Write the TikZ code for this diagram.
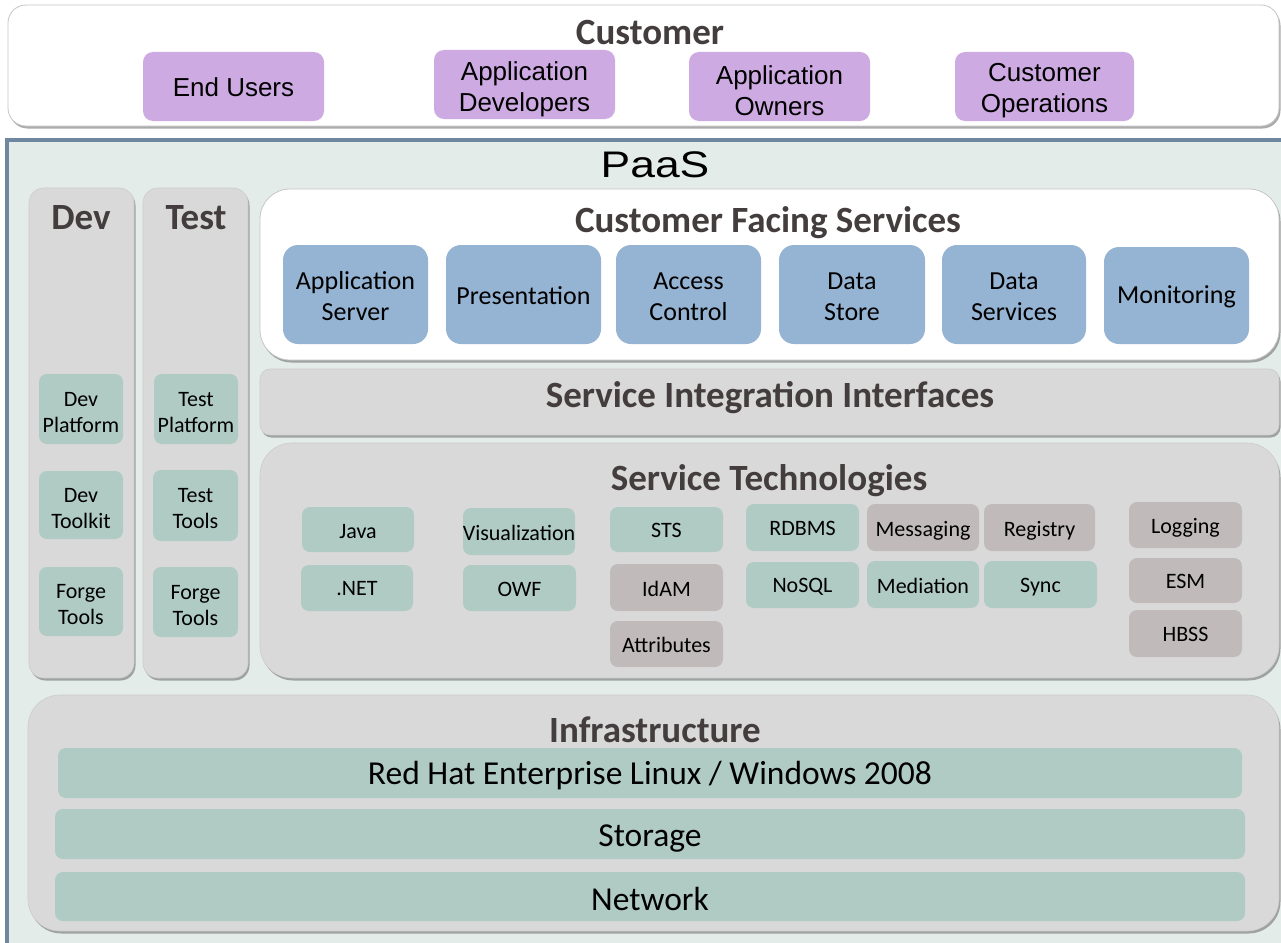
\documentclass[tikz,border=0pt]{standalone}
\usepackage{fontspec}
\usepackage{graphicx}
\setmainfont{Carlito}
\newfontfamily\arialf{Liberation Sans}
\usetikzlibrary{shadows}
\definecolor{paasbg}{HTML}{E4ECEA}
\definecolor{paasln}{HTML}{6F88A0}
\definecolor{cgray}{HTML}{D9D9D9}
\definecolor{tealc}{HTML}{B0CBC4}
\definecolor{mauvec}{HTML}{C1BABA}
\definecolor{bluec}{HTML}{95B3D2}
\definecolor{purpc}{HTML}{CEAAE3}
\definecolor{ttlc}{HTML}{433D3D}
\newcommand\myfs[2]{\fontsize{#1}{#2}\selectfont}
% container box (no text)
\newcommand\cbx[6]{\node[#6, minimum width={#4-#2}, minimum height={#5-#3}] (#1) at ({(#2+#4)/2},{(#3+#5)/2}) {};}
% filled box with its text node shifted by #8
\newcommand\bx[8]{\node[#6, minimum width={#4-#2}, minimum height={#5-#3}] (#1) at ({(#2+#4)/2},{(#3+#5)/2}) {};
  \node[#6, fill=none, draw=none, yshift=#8] (#1-t) at (#1.center) {#7};}
\tikzset{
  shd/.style={drop shadow={shadow xshift=1.5pt, shadow yshift=-2.5pt, opacity=0.55, fill=black!60}},
  ctrbox/.style={rounded corners=#1, fill=cgray, draw=gray!40, line width=0.6pt, inner sep=0pt, shd},
  whitebox/.style={rounded corners=#1, fill=white, draw=gray!45, line width=0.8pt, inner sep=0pt, shd},
  purplebox/.style={rounded corners=10pt, fill=purpc, inner sep=0pt, align=center, font={\arialf\myfs{26}{31}}, text=black},
  bluebox/.style={rounded corners=15pt, fill=bluec, inner sep=0pt, align=center, font={\myfs{26}{31}}, text=black},
  tealitem/.style={rounded corners=8pt, fill=tealc, inner sep=0pt, align=center, font={\myfs{22}{26}}, text=black},
  mauveitem/.style={rounded corners=8pt, fill=mauvec, inner sep=0pt, align=center, font={\myfs{22}{26}}, text=black},
  tealbar/.style={rounded corners=8pt, fill=tealc, inner sep=0pt, font={\myfs{33.5}{36}}, text=black},
  ttltext/.style={font={\bfseries\myfs{37}{40}}, text=ttlc, inner sep=0pt, anchor=base},
}
\begin{document}
\begin{tikzpicture}[x=1pt, y=-1pt]
\useasboundingbox (0,0) rectangle (1281,942);
\fill[white] (0,0) rectangle (1281,942);
% Customer
\cbx{cust}{8}{5}{1279}{126}{whitebox=18pt}
\node[ttltext] (custT) at (650,45) {Customer};
\bx{endu}{143}{52}{324}{121}{purplebox}{End Users}{-1pt}
\bx{adev}{434}{50}{615}{119}{purplebox}{Application\\Developers}{-5pt}
\bx{aown}{689}{52}{870}{121}{purplebox}{Application\\Owners}{-4pt}
\bx{cops}{955}{52}{1134}{121}{purplebox}{Customer\\Operations}{-4pt}
% PaaS
\fill[paasbg] (5,138) rectangle (1290,950);
\draw[paasln, line width=3.5pt] (7,950) -- (7,139.75) -- (1290,139.75);
\node[anchor=base, inner sep=0pt, font={\arialf\myfs{37}{40}}] (paasT) at (655,177) {\scalebox{1.2}[1]{PaaS}};
% Dev / Test
\cbx{devc}{29}{188}{134}{678}{ctrbox=15pt}
\cbx{testc}{143}{188}{248}{678}{ctrbox=15pt}
\node[ttltext] (devT) at (81,229) {Dev};
\node[ttltext] (testT) at (196,229) {Test};
\bx{devplat}{39}{374}{123}{444}{tealitem}{Dev\\Platform}{-3.5pt}
\bx{devkit}{39}{471}{123}{539}{tealitem}{Dev\\Toolkit}{-3.5pt}
\bx{devforge}{39}{567}{123}{636}{tealitem}{Forge\\Tools}{-3.5pt}
\bx{testplat}{154}{374}{238}{444}{tealitem}{Test\\Platform}{-3.5pt}
\bx{testtools}{153}{470}{238}{541}{tealitem}{Test\\Tools}{-3.5pt}
\bx{testforge}{153}{567}{238}{637}{tealitem}{Forge\\Tools}{-3.5pt}
% Customer Facing Services
\cbx{cfs}{260}{189}{1279}{360}{whitebox=30pt}
\node[ttltext] (cfsT) at (768,232) {Customer Facing Services};
\bx{appsrv}{283}{245}{428}{344}{bluebox}{Application\\Server}{-2pt}
\bx{pres}{446}{245}{601}{344}{bluebox}{Presentation}{-1pt}
\bx{acc}{616}{245}{761}{344}{bluebox}{Access\\Control}{-2pt}
\bx{dstore}{779}{245}{925}{344}{bluebox}{Data\\Store}{-2pt}
\bx{dserv}{942}{245}{1086}{344}{bluebox}{Data\\Services}{-2pt}
\bx{mon}{1104}{247}{1249}{344}{bluebox}{Monitoring}{-1pt}
% Service Integration Interfaces
\cbx{sii}{260}{369}{1279}{435}{ctrbox=10pt}
\node[ttltext] (siiT) at (770,407) {Service Integration Interfaces};
% Service Technologies
\cbx{st}{260}{443}{1279}{678}{ctrbox=32pt}
\node[ttltext] (stT) at (769,490) {Service Technologies};
\bx{java}{302}{507}{414}{552}{tealitem}{Java}{-2pt}
\bx{dnet}{301}{565}{413}{611}{tealitem}{.NET}{-1pt}
\bx{vis}{463}{508}{575}{555}{tealitem}{Visualization}{-1pt}
\bx{owf}{463}{565}{576}{611}{tealitem}{OWF}{-1pt}
\bx{sts}{610}{507}{723}{552}{tealitem}{STS}{-1pt}
\bx{idam}{610}{564}{723}{611}{mauveitem}{IdAM}{-1pt}
\bx{attr}{610}{621}{723}{667}{mauveitem}{Attributes}{-1pt}
\bx{rdbms}{746}{504}{859}{551}{tealitem}{RDBMS}{-1pt}
\bx{nosql}{746}{562}{859}{608}{tealitem}{NoSQL}{-2pt}
\bx{msg}{867}{504}{979}{551}{mauveitem}{Messaging}{-3pt}
\bx{reg}{984}{504}{1095}{551}{mauveitem}{Registry}{-3pt}
\bx{med}{867}{561}{979}{608}{tealitem}{Mediation}{-1pt}
\bx{sync}{984}{561}{1097}{608}{tealitem}{Sync}{-3pt}
\bx{logg}{1129}{502}{1242}{548}{mauveitem}{Logging}{-3pt}
\bx{esm}{1129}{558}{1242}{603}{mauveitem}{ESM}{-1pt}
\bx{hbss}{1129}{610}{1242}{657}{mauveitem}{HBSS}{-1pt}
% Infrastructure
\cbx{infra}{28}{695}{1279}{931}{ctrbox=32pt}
\node[ttltext] (infraT) at (655,742) {Infrastructure};
\bx{rhel}{58}{748}{1242}{798}{tealbar}{Red Hat Enterprise Linux / Windows 2008}{-3pt}
\bx{stor}{55}{809}{1245}{859}{tealbar}{Storage}{-4pt}
\bx{netw}{55}{872}{1245}{921}{tealbar}{Network}{-2pt}
\end{tikzpicture}
\end{document}
